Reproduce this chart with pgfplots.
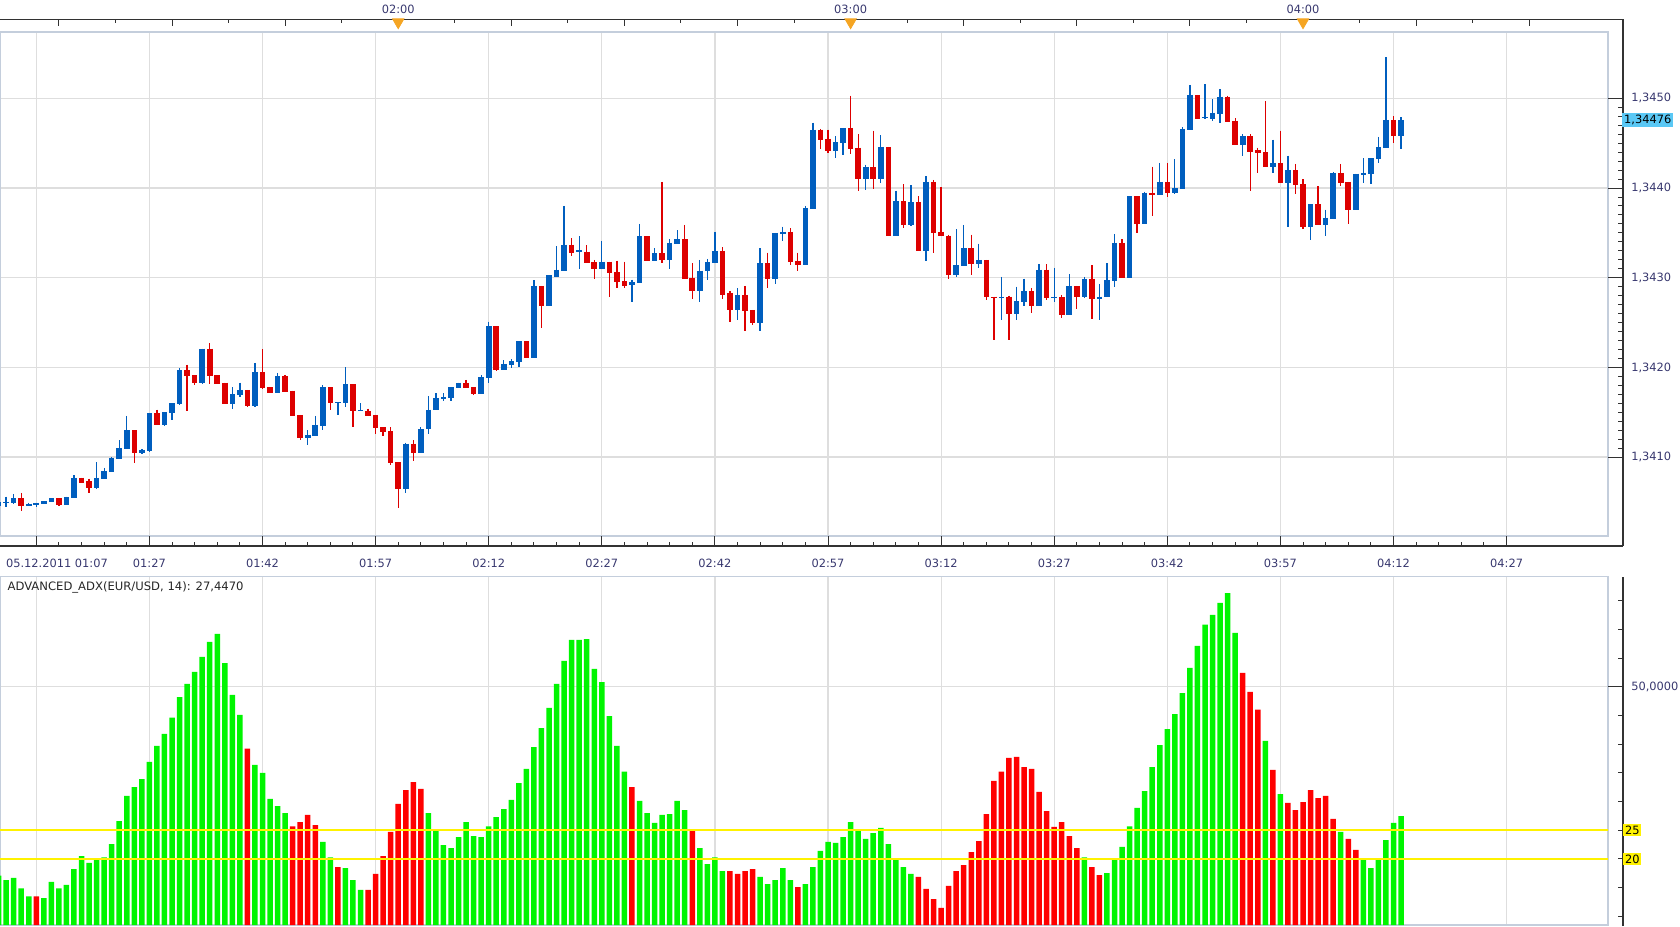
\documentclass[border=0pt]{standalone}
\usepackage{fontspec}
\setmainfont{DejaVu Sans}
\usepackage{pgfplots}
\pgfplotsset{compat=1.18}
\usepackage{pgfplotstable}
\definecolor{cblue}{RGB}{0,94,190}
\definecolor{cred}{RGB}{221,0,0}
\definecolor{hgreen}{RGB}{0,245,0}
\definecolor{hred}{RGB}{255,0,0}
\definecolor{gridc}{RGB}{222,222,222}
\definecolor{framec}{RGB}{196,206,220}
\definecolor{axc}{RGB}{50,50,50}
\definecolor{labc}{RGB}{55,55,110}
\definecolor{curc}{RGB}{90,200,245}
\definecolor{tri}{RGB}{245,165,35}

% up candles: minute index, open, high, low, close
\pgfplotstableread{
m o h l c
0 1.34046 1.34050 1.34046 1.34050
1 1.34049 1.34056 1.34044 1.34050
2 1.34049 1.34059 1.34048 1.34054
4 1.34045 1.34049 1.34045 1.34048
5 1.34047 1.34049 1.34044 1.34049
6 1.34048 1.34051 1.34048 1.34051
7 1.34050 1.34054 1.34050 1.34054
9 1.34047 1.34056 1.34047 1.34055
10 1.34054 1.34080 1.34054 1.34077
13 1.34066 1.34094 1.34064 1.34077
14 1.34076 1.34088 1.34076 1.34084
15 1.34083 1.34100 1.34083 1.34099
16 1.34098 1.34119 1.34098 1.34110
17 1.34109 1.34146 1.34109 1.34130
19 1.34105 1.34109 1.34103 1.34108
20 1.34107 1.34149 1.34106 1.34149
22 1.34136 1.34150 1.34135 1.34150
23 1.34149 1.34160 1.34141 1.34160
24 1.34159 1.34199 1.34158 1.34197
27 1.34183 1.34221 1.34181 1.34221
31 1.34159 1.34178 1.34154 1.34170
32 1.34169 1.34183 1.34167 1.34175
34 1.34157 1.34205 1.34156 1.34195
37 1.34171 1.34194 1.34171 1.34190
41 1.34121 1.34130 1.34113 1.34125
42 1.34124 1.34146 1.34123 1.34136
43 1.34135 1.34180 1.34130 1.34178
45 1.34160 1.34161 1.34147 1.34161
46 1.34160 1.34200 1.34156 1.34181
48 1.34151 1.34160 1.34151 1.34152
54 1.34064 1.34116 1.34060 1.34115
56 1.34104 1.34133 1.34104 1.34131
57 1.34131 1.34168 1.34126 1.34153
58 1.34152 1.34171 1.34152 1.34166
59 1.34165 1.34171 1.34163 1.34167
60 1.34166 1.34178 1.34162 1.34178
61 1.34177 1.34183 1.34177 1.34183
64 1.34170 1.34191 1.34170 1.34189
65 1.34188 1.34251 1.34183 1.34246
67 1.34197 1.34208 1.34197 1.34204
68 1.34203 1.34209 1.34199 1.34207
69 1.34206 1.34229 1.34200 1.34229
71 1.34210 1.34297 1.34210 1.34291
73 1.34268 1.34303 1.34268 1.34303
74 1.34301 1.34335 1.34301 1.34309
75 1.34308 1.34380 1.34308 1.34337
77 1.34329 1.34346 1.34310 1.34331
80 1.34310 1.34341 1.34310 1.34318
84 1.34292 1.34298 1.34273 1.34295
85 1.34294 1.34360 1.34294 1.34346
87 1.34319 1.34333 1.34319 1.34327
89 1.34320 1.34343 1.34310 1.34339
90 1.34338 1.34353 1.34338 1.34343
93 1.34285 1.34320 1.34273 1.34308
94 1.34307 1.34321 1.34298 1.34317
95 1.34316 1.34351 1.34316 1.34330
98 1.34264 1.34288 1.34253 1.34281
101 1.34249 1.34333 1.34241 1.34316
103 1.34298 1.34350 1.34293 1.34350
104 1.34349 1.34357 1.34341 1.34351
107 1.34314 1.34380 1.34314 1.34378
108 1.34377 1.34473 1.34377 1.34465
111 1.34441 1.34458 1.34434 1.34451
112 1.34450 1.34467 1.34437 1.34467
115 1.34410 1.34426 1.34398 1.34423
117 1.34410 1.34459 1.34406 1.34446
119 1.34347 1.34397 1.34347 1.34385
121 1.34359 1.34403 1.34358 1.34384
123 1.34330 1.34413 1.34319 1.34407
127 1.34303 1.34354 1.34301 1.34314
128 1.34313 1.34359 1.34313 1.34333
130 1.34315 1.34338 1.34311 1.34320
133 1.34277 1.34301 1.34253 1.34279
135 1.34259 1.34290 1.34253 1.34274
136 1.34273 1.34299 1.34269 1.34285
138 1.34268 1.34315 1.34268 1.34309
140 1.34278 1.34311 1.34273 1.34279
142 1.34258 1.34304 1.34258 1.34291
144 1.34279 1.34301 1.34277 1.34299
146 1.34276 1.34293 1.34253 1.34279
147 1.34278 1.34316 1.34278 1.34297
148 1.34296 1.34349 1.34290 1.34339
150 1.34300 1.34391 1.34300 1.34391
152 1.34360 1.34396 1.34360 1.34395
154 1.34392 1.34428 1.34392 1.34407
156 1.34394 1.34432 1.34393 1.34400
157 1.34399 1.34468 1.34399 1.34466
158 1.34465 1.34515 1.34465 1.34504
160 1.34478 1.34516 1.34477 1.34479
161 1.34477 1.34499 1.34475 1.34484
162 1.34483 1.34510 1.34473 1.34502
165 1.34448 1.34460 1.34436 1.34458
169 1.34423 1.34454 1.34417 1.34428
171 1.34406 1.34436 1.34356 1.34420
174 1.34357 1.34382 1.34342 1.34382
176 1.34359 1.34376 1.34347 1.34367
177 1.34366 1.34418 1.34366 1.34417
180 1.34376 1.34416 1.34376 1.34416
181 1.34415 1.34433 1.34406 1.34417
182 1.34416 1.34433 1.34405 1.34433
183 1.34432 1.34457 1.34428 1.34446
184 1.34445 1.34546 1.34445 1.34476
186 1.34458 1.34479 1.34443 1.34476
}\upc

% down candles: minute index, open, high, low, close
\pgfplotstableread{
m o h l c
3 1.34054 1.34060 1.34040 1.34045
8 1.34054 1.34054 1.34045 1.34047
11 1.34077 1.34077 1.34071 1.34071
12 1.34073 1.34076 1.34060 1.34066
18 1.34130 1.34130 1.34093 1.34105
21 1.34149 1.34153 1.34136 1.34136
25 1.34197 1.34203 1.34151 1.34190
26 1.34191 1.34191 1.34180 1.34183
28 1.34221 1.34227 1.34181 1.34190
29 1.34191 1.34191 1.34181 1.34181
30 1.34183 1.34183 1.34159 1.34159
33 1.34175 1.34175 1.34156 1.34157
35 1.34195 1.34220 1.34176 1.34177
36 1.34178 1.34178 1.34171 1.34171
38 1.34190 1.34191 1.34173 1.34173
39 1.34174 1.34174 1.34146 1.34146
40 1.34147 1.34147 1.34119 1.34121
44 1.34178 1.34178 1.34152 1.34160
47 1.34181 1.34181 1.34134 1.34151
49 1.34151 1.34154 1.34146 1.34146
50 1.34147 1.34147 1.34126 1.34132
51 1.34133 1.34133 1.34123 1.34128
52 1.34129 1.34133 1.34091 1.34093
53 1.34094 1.34094 1.34043 1.34064
55 1.34115 1.34119 1.34096 1.34104
62 1.34183 1.34186 1.34177 1.34177
63 1.34178 1.34178 1.34169 1.34170
66 1.34246 1.34246 1.34196 1.34197
70 1.34229 1.34229 1.34210 1.34210
72 1.34291 1.34291 1.34244 1.34268
76 1.34337 1.34344 1.34324 1.34328
78 1.34329 1.34336 1.34316 1.34316
79 1.34317 1.34320 1.34299 1.34310
81 1.34318 1.34318 1.34278 1.34305
82 1.34306 1.34319 1.34289 1.34295
83 1.34296 1.34318 1.34288 1.34291
86 1.34346 1.34346 1.34319 1.34319
88 1.34327 1.34407 1.34316 1.34320
91 1.34343 1.34359 1.34299 1.34299
92 1.34300 1.34316 1.34276 1.34285
96 1.34330 1.34334 1.34276 1.34281
97 1.34283 1.34285 1.34251 1.34264
99 1.34281 1.34291 1.34241 1.34263
100 1.34264 1.34264 1.34247 1.34249
102 1.34316 1.34328 1.34289 1.34298
105 1.34351 1.34355 1.34314 1.34318
106 1.34319 1.34328 1.34308 1.34314
109 1.34465 1.34466 1.34443 1.34454
110 1.34455 1.34465 1.34439 1.34441
113 1.34467 1.34503 1.34438 1.34444
114 1.34445 1.34460 1.34397 1.34410
116 1.34423 1.34464 1.34399 1.34410
118 1.34446 1.34446 1.34347 1.34347
120 1.34385 1.34404 1.34355 1.34359
122 1.34384 1.34391 1.34330 1.34330
124 1.34407 1.34409 1.34328 1.34350
125 1.34351 1.34401 1.34346 1.34346
126 1.34347 1.34348 1.34299 1.34303
129 1.34333 1.34348 1.34303 1.34315
131 1.34320 1.34320 1.34275 1.34278
132 1.34279 1.34279 1.34230 1.34277
134 1.34279 1.34280 1.34231 1.34259
137 1.34285 1.34288 1.34261 1.34268
139 1.34309 1.34315 1.34275 1.34277
141 1.34278 1.34281 1.34255 1.34258
143 1.34291 1.34291 1.34265 1.34279
145 1.34299 1.34314 1.34254 1.34276
149 1.34339 1.34343 1.34300 1.34300
151 1.34391 1.34391 1.34350 1.34360
153 1.34395 1.34424 1.34369 1.34392
155 1.34407 1.34428 1.34390 1.34394
159 1.34504 1.34504 1.34477 1.34477
163 1.34502 1.34503 1.34474 1.34474
164 1.34475 1.34478 1.34448 1.34448
166 1.34458 1.34460 1.34397 1.34440
167 1.34442 1.34445 1.34417 1.34439
168 1.34440 1.34497 1.34423 1.34423
170 1.34428 1.34464 1.34406 1.34406
172 1.34420 1.34427 1.34393 1.34403
173 1.34404 1.34410 1.34354 1.34357
175 1.34382 1.34402 1.34359 1.34359
178 1.34417 1.34427 1.34402 1.34406
179 1.34407 1.34407 1.34360 1.34376
185 1.34476 1.34480 1.34450 1.34458
}\dnc

% ADX histogram, rising (green)
\pgfplotstableread{
m v
0 17.1
1 16.3
2 16.7
3 14.9
4 13.5
6 13.2
7 16.0
8 14.9
9 15.5
10 18.25
11 20.5
12 19.3
13 19.8
14 20.3
15 22.6
16 26.6
17 31.0
18 32.5
19 33.9
20 36.9
21 39.7
22 41.8
23 44.6
24 48.2
25 50.5
26 52.6
27 55.2
28 57.8
29 59.2
30 54.1
31 48.6
32 45.1
34 36.4
35 35.0
36 30.45
37 29.2
38 28.0
43 23.0
44 20.3
46 18.4
47 16.3
48 14.6
57 28.0
58 24.9
59 22.4
60 21.9
61 23.8
62 26.4
63 24.0
64 23.8
65 25.7
66 27.3
67 28.7
68 30.3
69 33.2
70 35.7
71 39.5
72 42.8
73 46.3
74 50.5
75 54.5
76 58.15
77 58.15
78 58.3
79 53.1
80 50.8
81 44.9
82 39.7
83 35.2
85 30.1
86 28.0
87 26.3
88 27.7
89 27.8
90 30.1
91 28.5
93 21.9
94 19.1
95 20.3
96 17.9
101 16.9
102 15.6
103 16.3
104 18.4
105 16.3
107 15.6
108 18.6
109 21.4
110 23.0
111 22.8
112 23.8
113 26.4
114 24.9
115 23.5
116 24.5
117 25.4
118 22.6
119 20.0
120 18.6
121 17.4
144 20.3
147 17.55
148 20.0
149 22.1
150 25.7
151 28.9
152 31.8
153 36.0
154 39.85
155 42.6
156 45.25
157 48.9
158 53.3
159 57.1
160 60.8
161 62.5
162 64.6
163 66.3
164 59.4
168 40.55
170 31.3
178 24.7
181 20.0
182 18.4
183 20.0
184 23.3
185 26.3
186 27.447
}\hg

% ADX histogram, falling (red)
\pgfplotstableread{
m v
5 13.5
33 39.2
39 25.7
40 26.4
41 27.7
42 25.9
45 18.6
49 14.6
50 17.4
51 20.5
52 24.7
53 29.6
54 32.0
55 33.4
56 32.2
84 32.5
92 24.9
97 17.9
98 17.4
99 17.9
100 18.25
106 15.1
122 16.9
123 14.8
124 13.0
125 11.5
126 15.3
127 17.9
128 18.95
129 21.2
130 23.1
131 27.8
132 33.6
133 35.2
134 37.6
135 37.8
136 36.0
137 35.7
138 31.7
139 28.35
140 25.6
141 26.4
142 24.0
143 21.9
145 18.6
146 17.2
165 52.4
166 49.1
167 46.0
169 35.5
171 29.75
172 28.5
173 29.9
174 32.0
175 30.6
176 31.0
177 27.0
179 23.5
180 21.6
}\hr

\pgfplotsset{
  lab/.style={font=\fontsize{5.7}{6.5}\selectfont, text=labc},
  candle/.style={draw=none, mark=none, forget plot,
    error bars/.cd, y dir=minus, y explicit, error mark=none,
    error bar style={draw=#1, line width=0.65pt}},
  body/.style={draw=none, mark=none, forget plot,
    error bars/.cd, y dir=minus, y explicit, error mark=none,
    error bar style={draw=#1, line width=2.8pt}},
}

\begin{document}
\begin{tikzpicture}[x=1pt,y=1pt]
\path[use as bounding box] (0pt,0pt) rectangle (840pt,463pt);

% ---------------- price panel: plot area ----------------
\begin{axis}[at={(0pt,195pt)}, anchor=south west, scale only axis,
  width=804pt, height=252pt,
  xmin=0.186, xmax=213.45, ymin=1.34012, ymax=1.34574,
  axis line style={framec, line width=0.9pt},
  xtick={5,20,...,200}, ytick={1.341,1.342,1.343,1.344,1.345},
  xticklabels={}, yticklabels={}, major tick length=0pt,
  grid=major, major grid style={gridc, line width=0.6pt},
  scaled y ticks=false]
  % wicks
  \addplot[candle=cblue]
    table[x=m, y=h, y error minus expr=\thisrow{h}-\thisrow{l}] {\upc};
  \addplot[candle=cred]
    table[x=m, y=h, y error minus expr=\thisrow{h}-\thisrow{l}] {\dnc};
  % bodies
  \addplot[body=cblue]
    table[x=m, y=c, y error minus expr=\thisrow{c}-\thisrow{o}] {\upc};
  \addplot[body=cred]
    table[x=m, y=o, y error minus expr=\thisrow{o}-\thisrow{c}] {\dnc};
\end{axis}

% ---------------- price panel: right scale ----------------
\begin{axis}[at={(0pt,190pt)}, anchor=south west, scale only axis,
  width=811.5pt, height=263.35pt,
  xmin=0.186, xmax=215.44, ymin=1.340012, ymax=1.345880,
  axis y line*=right, axis x line*=bottom,
  x axis line style={draw=none}, xtick=\empty,
  y axis line style={axc, line width=0.6pt},
  ytick={1.341,1.342,1.343,1.344,1.345},
  yticklabels={1{,}3410,1{,}3420,1{,}3430,1{,}3440,1{,}3450},
  minor y tick num=9, tick align=inside,
  major tick length=7.5pt, minor tick length=2.5pt,
  tick style={axc, line width=0.5pt},
  yticklabel style={lab, anchor=west, xshift=0.6pt},
  extra y ticks={1.34476}, extra y tick labels={1{,}34476},
  extra y tick style={major tick length=0pt,
    yticklabel style={fill=curc, text=black, inner sep=1pt, xshift=-1.2pt}},
  scaled y ticks=false]
\end{axis}

% ---------------- price panel: bottom time scale ----------------
\begin{axis}[at={(0pt,190pt)}, anchor=south west, scale only axis,
  width=811.5pt, height=263.35pt,
  xmin=0.186, xmax=215.44, ymin=0, ymax=1,
  axis x line*=bottom, axis y line*=right,
  y axis line style={draw=none}, ytick=\empty,
  x axis line style={axc, line width=0.6pt},
  xtick={5,20,...,200},
  xticklabels={,01:27,01:42,01:57,02:12,02:27,02:42,02:57,03:12,03:27,03:42,03:57,04:12,04:27},
  minor x tick num=4, tick align=inside,
  major tick length=5pt, minor tick length=2pt,
  tick style={axc, line width=0.5pt},
  xticklabel style={lab, yshift=-3pt},
  extra x ticks={0.186}, extra x tick labels={05.12.2011 01:07},
  extra x tick style={major tick length=0pt,
    xticklabel style={anchor=north west, xshift=-0.5pt}}]
\end{axis}

% ---------------- price panel: top time scale ----------------
\begin{axis}[at={(0pt,190pt)}, anchor=south west, scale only axis,
  width=811.5pt, height=263.35pt,
  xmin=0.186, xmax=215.44, ymin=0, ymax=1,
  axis x line*=top, axis y line*=right,
  y axis line style={draw=none}, ytick=\empty,
  x axis line style={axc, line width=0.6pt},
  xtick={8,23,...,203},
  xticklabels={,,,02:00,,,,03:00,,,,04:00,,},
  minor x tick num=1, tick align=inside,
  major tick length=3.5pt, minor tick length=2pt,
  tick style={axc, line width=0.5pt},
  xticklabel style={lab, yshift=-0.6pt},
  clip=false]
  \addplot[only marks, mark=triangle*, mark size=3.3pt,
    mark options={yshift=-1.4pt, rotate=180, fill=tri, draw=tri}]
    coordinates {(53,1) (113,1) (173,1)};
\end{axis}

% ---------------- ADX panel: plot area ----------------
\begin{axis}[at={(0pt,0.5pt)}, anchor=south west, scale only axis,
  width=804pt, height=174.25pt,
  xmin=0.186, xmax=213.45, ymin=8.5, ymax=69.2,
  axis line style={framec, line width=0.9pt},
  xtick={5,20,...,200}, ytick={50},
  xticklabels={}, yticklabels={}, major tick length=0pt,
  grid=major, major grid style={gridc, line width=0.6pt}]
  \addplot[ybar, bar width=2.75pt, bar shift=0pt, fill=hgreen, draw=none, forget plot]
    table[x=m, y=v] {\hg};
  \addplot[ybar, bar width=2.75pt, bar shift=0pt, fill=hred, draw=none, forget plot]
    table[x=m, y=v] {\hr};
  \addplot[yellow, line width=0.8pt, forget plot] coordinates {(0,25) (214,25)};
  \addplot[yellow, line width=0.8pt, forget plot] coordinates {(0,20) (214,20)};
  \node[anchor=north west, inner sep=0pt, font=\fontsize{5.8}{7}\selectfont, text=black!85]
    at (rel axis cs:0,1) [xshift=3.6pt, yshift=-2.2pt] {ADVANCED\_ADX(EUR/USD, 14): 27,4470};
\end{axis}

% ---------------- ADX panel: right scale ----------------
\begin{axis}[at={(0pt,0pt)}, anchor=south west, scale only axis,
  width=811.5pt, height=174.75pt,
  xmin=0.186, xmax=215.44, ymin=8.33, ymax=69.2,
  axis y line*=right, axis x line*=bottom,
  x axis line style={draw=none}, xtick=\empty,
  y axis line style={axc, line width=0.6pt},
  ytick={50}, yticklabels={50{,}0000},
  minor ytick={10,15,...,65},
  tick align=inside, major tick length=7.5pt, minor tick length=2.5pt,
  tick style={axc, line width=0.5pt},
  yticklabel style={lab, anchor=west, xshift=0.6pt},
  extra y ticks={20,25}, extra y tick labels={20,25},
  extra y tick style={major tick length=2.5pt,
    yticklabel style={fill=yellow, text=black, inner sep=0.8pt, xshift=-0.6pt}}]
\end{axis}
\end{tikzpicture}
\end{document}
